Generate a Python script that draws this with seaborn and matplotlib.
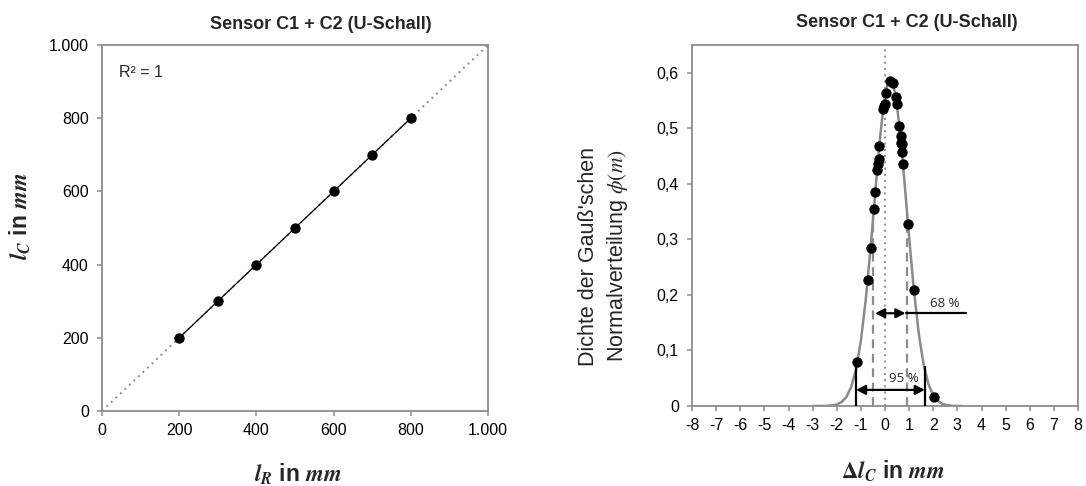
import matplotlib
matplotlib.use("Agg")
import matplotlib.pyplot as plt
import seaborn as sns

# ---------------- data: left panel ----------------
lr_mm = [200, 300, 400, 500, 600, 700, 800]
lc_mm = [200, 300, 400, 500, 600, 700, 800]
ident_x = [0, 1000]
ident_y = [0, 1000]
left_ticks = [0, 200, 400, 600, 800, 1000]
left_tick_labels = ["0", "200", "400", "600", "800", "1.000"]

# ---------------- data: right panel ----------------
dev_mm = [-1.15, -0.72, -0.57, -0.44, -0.40, -0.32, -0.30, -0.26, -0.24,
          -0.07, -0.04, -0.01, 0.06, 0.22, 0.34, 0.46, 0.49, 0.60, 0.65,
          0.65, 0.70, 0.69, 0.75, 0.96, 1.21, 2.04]
dens = [0.080, 0.226, 0.285, 0.354, 0.385, 0.425, 0.435, 0.444, 0.469,
        0.534, 0.540, 0.544, 0.563, 0.585, 0.581, 0.556, 0.543, 0.504, 0.486,
        0.474, 0.471, 0.458, 0.435, 0.327, 0.208, 0.017]

curve_x = [-3.0, -2.8, -2.6, -2.4, -2.2, -2.0, -1.8, -1.6, -1.4, -1.2, -1.0,
           -0.8, -0.6, -0.5, -0.4, -0.3, -0.2, -0.1, 0.0, 0.1, 0.2, 0.3, 0.4,
           0.5, 0.6, 0.7, 0.8, 0.9, 1.0, 1.2, 1.4, 1.6, 1.8, 2.0, 2.2, 2.4,
           2.6, 2.8, 3.0, 3.2]
curve_y = [0.0000, 0.0000, 0.0001, 0.0004, 0.0010, 0.0028, 0.0071, 0.0163,
           0.0344, 0.0663, 0.1174, 0.1905, 0.2835, 0.3349, 0.3872, 0.4380,
           0.4849, 0.5252, 0.5568, 0.5776, 0.5864, 0.5827, 0.5665, 0.5390,
           0.5019, 0.4573, 0.4078, 0.3559, 0.3039, 0.2077, 0.1302, 0.0749,
           0.0394, 0.0191, 0.0085, 0.0034, 0.0013, 0.0004, 0.0001, 0.0000]

sigma_x = [-0.48, 0.92]
sigma_top = [0.345, 0.345]
two_sigma_x = [-1.20, 1.65]
two_sigma_top = [0.080, 0.072]
arrow95 = (-1.20, 1.65, 0.029)
arrow68 = (-0.41, 0.85, 0.167)
leader68_end = 3.34
mean_line_x = 0.0

right_xticks = list(range(-8, 9))
right_xtick_labels = [str(v) for v in right_xticks]
right_yticks = [0, 0.1, 0.2, 0.3, 0.4, 0.5, 0.6]
right_ytick_labels = ["0", "0,1", "0,2", "0,3", "0,4", "0,5", "0,6"]

title = "Sensor C1 + C2 (U-Schall)"

# ---------------- style ----------------
sns.set_style("white")
plt.rcParams["font.family"] = ["Liberation Sans", "DejaVu Sans"]
plt.rcParams["mathtext.fontset"] = "stix"

SPINE = "#8c8c8c"
CURVE = "#8a8a8a"

fig = plt.figure(figsize=(10.86, 4.86), dpi=100)
ax1 = fig.add_axes([102 / 1086, 1 - 411 / 486, 386 / 1086, 366 / 486])
ax2 = fig.add_axes([692 / 1086, 1 - 406 / 486, 386 / 1086, 361 / 486])

for ax in (ax1, ax2):
    for s in ax.spines.values():
        s.set_visible(True)
        s.set_color(SPINE)
        s.set_linewidth(1.3)
    ax.tick_params(direction="out", length=3.5, width=1.1, color=SPINE,
                   labelsize=11.5, labelcolor="black",
                   bottom=True, left=True)
    ax.tick_params(axis="y", pad=6)
    ax.tick_params(axis="x", pad=5)
    ax.grid(False)

# ---------------- left panel ----------------
sns.lineplot(x=ident_x, y=ident_y, ax=ax1, color="#8c8c8c", lw=1.4,
             linestyle=(0, (1, 2.2)))
sns.lineplot(x=lr_mm, y=lc_mm, ax=ax1, color="black", lw=0.9)
sns.scatterplot(x=lr_mm, y=lc_mm, ax=ax1, color="black", s=56,
                edgecolor="black", linewidth=0, zorder=5)
ax1.set_xlim(0, 1000)
ax1.set_ylim(0, 1000)
ax1.set_xticks(left_ticks, left_tick_labels)
ax1.set_yticks(left_ticks, left_tick_labels)
ax1.text(0.043, 0.926, "R² = 1", transform=ax1.transAxes, fontsize=11.5,
         ha="left", va="center")
ax1.text(0.567, 1.057, title, transform=ax1.transAxes, fontsize=13,
         fontweight="bold", ha="center", va="center")

fig.text(0.2744, 0.025, r"$\mathbfit{l}_{\mathbfit{R}}$ in $\mathbfit{mm}$",
         fontsize=16.5, fontweight="bold", ha="center", va="center")
fig.text(0.018, 0.556, r"$\mathbfit{l}_{\mathbfit{C}}$ in $\mathbfit{mm}$",
         fontsize=16.5, fontweight="bold", ha="center", va="center",
         rotation=90)

# ---------------- right panel ----------------
ax2.axvline(mean_line_x, color="#8c8c8c", lw=1.4, linestyle=(0, (1, 2.2)),
            zorder=1)
ax2.vlines(sigma_x, 0, sigma_top, colors="#8c8c8c", lw=1.6,
           linestyles=(0, (4, 2.5)), zorder=1)
sns.lineplot(x=curve_x, y=curve_y, ax=ax2, color=CURVE, lw=1.8, zorder=2)
ax2.vlines(two_sigma_x, 0, two_sigma_top, colors="black", lw=1.6, zorder=3)
sns.scatterplot(x=dev_mm, y=dens, ax=ax2, color="black", s=56,
                edgecolor="black", linewidth=0, zorder=5)

arrow_kw = dict(arrowstyle="<|-|>,head_length=0.55,head_width=0.28",
                color="black", lw=1.6, shrinkA=0, shrinkB=0)
ax2.annotate("", xy=(arrow95[1], arrow95[2]), xytext=(arrow95[0], arrow95[2]),
             arrowprops=arrow_kw, zorder=6)
ax2.annotate("", xy=(arrow68[1], arrow68[2]), xytext=(arrow68[0], arrow68[2]),
             arrowprops=arrow_kw, zorder=6)
ax2.plot([arrow68[1], leader68_end], [arrow68[2], arrow68[2]],
         color="black", lw=1.6, zorder=6)
ax2.text(2.48, 0.184, "68 %", fontsize=9.5, family=["Open Sans", "DejaVu Sans"],
         ha="center", va="center")
ax2.text(0.78, 0.050, "95 %", fontsize=9.5, family=["Open Sans", "DejaVu Sans"],
         ha="center", va="center")

ax2.set_xlim(-8, 8)
ax2.set_ylim(0, 0.65)
ax2.set_xticks(right_xticks, right_xtick_labels)
ax2.set_yticks(right_yticks, right_ytick_labels)
ax2.text(0.557, 1.061, title, transform=ax2.transAxes, fontsize=13,
         fontweight="bold", ha="center", va="center")

fig.text(893 / 1086, 0.031, r"$\mathbf{\Delta}\mathbfit{l}_{\mathbfit{C}}$ in $\mathbfit{mm}$",
         fontsize=16.5, fontweight="bold", ha="center", va="center")
fig.text(604 / 1086, 1 - 256 / 486,
         "Dichte der Gauß'schen\nNormalverteilung $\\phi(m)$",
         fontsize=15.5, ha="center", va="center", rotation=90,
         multialignment="center", linespacing=1.35)

fig.savefig("out.png", dpi=100)
